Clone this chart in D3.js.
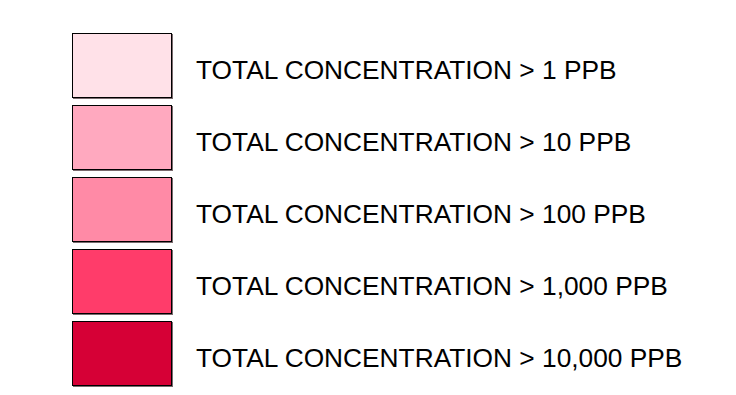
<!DOCTYPE html>
<html><head><meta charset="utf-8">
<script src="https://cdn.jsdelivr.net/npm/d3@7"></script>
<style>body{margin:0;background:#fff}</style>
</head><body>
<script>
const categories = ["TOTAL CONCENTRATION > 1 PPB","TOTAL CONCENTRATION > 10 PPB","TOTAL CONCENTRATION > 100 PPB","TOTAL CONCENTRATION > 1,000 PPB","TOTAL CONCENTRATION > 10,000 PPB"];
const colors = ["#ffe1e8","#ffa9bf","#ff8aa6","#ff3c6a","#d60036"];
const W=736,H=395;
const svg=d3.select("body").append("svg").attr("width",W).attr("height",H);
const y=d3.scaleBand().domain(d3.range(categories.length)).range([33,386]).paddingInner(7/72).paddingOuter(0);
const g=svg.selectAll("g.item").data(categories).join("g").attr("transform",(d,i)=>`translate(0,${y(i)})`);
g.append("rect").attr("x",73).attr("y",1).attr("width",100).attr("height",y.bandwidth())
 .attr("fill","#7a6a6e");
g.append("rect").attr("x",72.5).attr("y",0.5).attr("width",99).attr("height",y.bandwidth()-1)
 .attr("fill",(d,i)=>colors[i]).attr("stroke","#000").attr("stroke-width",1);
g.append("text").attr("x",196).attr("y",46)
 .attr("font-family","Liberation Sans, Arial, sans-serif").attr("font-size",26.3).attr("fill","#000").text(d=>d);
</script>
</body></html>
